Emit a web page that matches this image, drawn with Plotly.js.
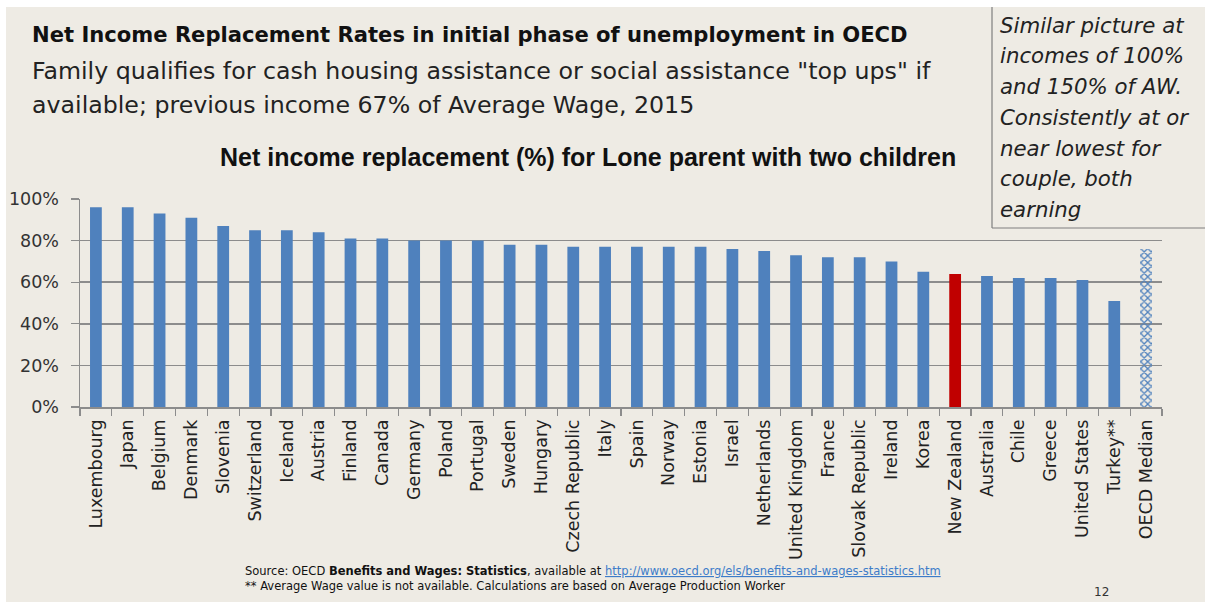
<!DOCTYPE html>
<html>
<head>
<meta charset="utf-8">
<script src="https://cdn.plot.ly/plotly-3.0.1.min.js"></script>
<style>
  html, body { margin:0; padding:0; background:#ffffff; }
  #bg { position:absolute; left:6px; top:7px; width:1199px; height:595px; background:#EEEBE4; }
  #chart { position:absolute; left:0; top:0; width:1205px; height:602px; }
</style>
</head>
<body>
<div id="bg"></div>
<div id="chart"></div>
<script>
// ---- data ----
const categories = ["Luxembourg","Japan","Belgium","Denmark","Slovenia","Switzerland","Iceland","Austria","Finland","Canada","Germany","Poland","Portugal","Sweden","Hungary","Czech Republic","Italy","Spain","Norway","Estonia","Israel","Netherlands","United Kingdom","France","Slovak Republic","Ireland","Korea","New Zealand","Australia","Chile","Greece","United States","Turkey**","OECD Median"];
const values = [96,96,93,91,87,85,85,84,81,81,80,80,80,78,78,77,77,77,77,77,76,75,73,72,72,70,65,64,63,62,62,61,51,76];
const yTickValues = [0,20,40,60,80,100];
const yTickLabels = ["0%","20%","40%","60%","80%","100%"];
const highlightCountry = "New Zealand";
const medianLabel = "OECD Median";

const titleText = "Net Income Replacement Rates in initial phase of unemployment in OECD";
const subtitleLines = ["Family qualifies for cash housing assistance or social assistance \"top ups\" if",
                       "available; previous income 67% of Average Wage, 2015"];
const chartTitle = "Net income replacement (%) for Lone parent with two children";
const noteLines = ["Similar picture at","incomes of 100%","and 150% of AW.","Consistently at or","near lowest for","couple, both","earning"];
const sourceLine1 = "Source: OECD <b>Benefits and Wages: Statistics</b>, available at <span style=\"color:#3d7cc9;text-decoration:underline\">http://www.oecd.org/els/benefits-and-wages-statistics.htm</span>";
const sourceLine2 = "** Average Wage value is not available. Calculations are based on Average Production Worker";
const pageNumber = "12";

// ---- styling ----
const BLUE = "#4F81BD", RED = "#C00000", BG = "#EEEBE4";
const W = 1205, H = 602, L = 80, R = 43, T = 199, B = 195;
const PW = W - L - R, PH = H - T - B;
const px = x => (x - L) / PW;
const py = y => (H - B - y) / PH;

const colors = categories.map(c => c === highlightCountry ? RED : BLUE);
const shapesPat = categories.map(c => c === medianLabel ? "x" : "");
const bgc = categories.map(c => c === medianLabel ? "#ffffff" : "rgba(0,0,0,0)");

const trace = {
  type: "bar",
  x: categories,
  y: values,
  width: 0.37,
  marker: {
    color: colors,
    line: { width: 0 },
    pattern: { shape: shapesPat, fgcolor: "#5a8acb", bgcolor: bgc, fgopacity: 1, size: 5, solidity: 0.45, fillmode: "replace" }
  },
  hoverinfo: "x+y"
};

const annotations = [];
function txt(text, x, y, font, opts) {
  annotations.push(Object.assign({
    text: text, xref: "paper", yref: "paper", x: px(x), y: py(y),
    xanchor: "left", yanchor: "middle", showarrow: false, font: font
  }, opts || {}));
}
const DV = "DejaVu Sans, sans-serif";
txt("<b>" + titleText + "</b>", 30, 35, { family: DV, size: 21.1, color: "#111111" });
txt(subtitleLines[0], 30, 71, { family: DV, size: 23.7, color: "#222222" });
txt(subtitleLines[1], 30, 105, { family: DV, size: 23.7, color: "#222222" });
txt("<b>" + chartTitle + "</b>", 588, 157, { family: "Liberation Sans, Arial, sans-serif", size: 25, color: "#111111" }, { xanchor: "center" });
noteLines.forEach((s, i) => {
  txt("<i>" + s + "</i>", 998, 25 + i * 30.8, { family: DV, size: 21.3, color: "#222222" });
});
txt(sourceLine1, 243, 571, { family: DV, size: 11.5, color: "#111111" });
txt(sourceLine2, 243, 586, { family: DV, size: 11.5, color: "#111111" });
txt(pageNumber, 1092, 592, { family: DV, size: 12, color: "#333333" });

const shapes = [
  { type: "line", xref: "paper", yref: "paper", x0: px(992), x1: px(992), y0: py(7), y1: py(228), line: { color: "#7f7f7f", width: 1.2 } },
  { type: "line", xref: "paper", yref: "paper", x0: px(992), x1: px(1205), y0: py(228), y1: py(228), line: { color: "#7f7f7f", width: 1.2 } }
];

const layout = {
  width: W, height: H,
  margin: { l: L, r: R, t: T, b: B, pad: 0 },
  paper_bgcolor: "rgba(0,0,0,0)",
  plot_bgcolor: BG,
  showlegend: false,
  xaxis: {
    type: "category",
    tickangle: -90,
    tickfont: { family: DV, size: 17.5, color: "#222222" },
    ticks: "outside", ticklen: 7, tickcolor: "#8c8c8c", tickwidth: 1.2,
    tickson: "boundaries",
    showline: true, linecolor: "#8c8c8c", linewidth: 1.5,
    showgrid: false,
    ticklabelstandoff: 4,
    fixedrange: true
  },
  yaxis: {
    range: [0, 100],
    tickvals: yTickValues,
    ticktext: yTickLabels,
    tickfont: { family: DV, size: 17.5, color: "#333333" },
    ticks: "outside", ticklen: 8, tickcolor: "#8c8c8c", tickwidth: 1.2,
    showline: true, linecolor: "#8c8c8c", linewidth: 1.5,
    showgrid: true, gridcolor: "#8c8c8c", gridwidth: 1.5,
    zeroline: false,
    ticklabelstandoff: 8,
    fixedrange: true
  },
  annotations: annotations,
  shapes: shapes
};

Plotly.newPlot("chart", [trace], layout, { displayModeBar: false, staticPlot: true });
</script>
</body>
</html>
